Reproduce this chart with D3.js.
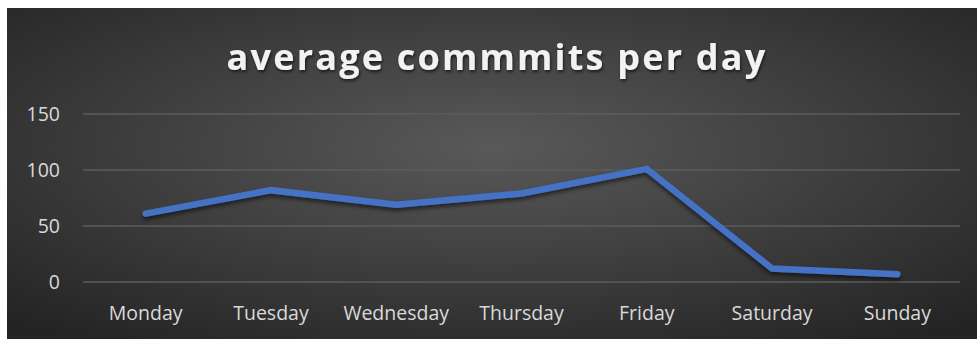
<!DOCTYPE html>
<html>
<head>
<meta charset="utf-8">
<script src="https://cdn.jsdelivr.net/npm/d3@7"></script>
<style>
  html, body { margin: 0; padding: 0; background: #ffffff; }
  svg { display: block; }
</style>
</head>
<body>
<svg id="chart" width="977" height="339"></svg>
<script>
// Average commits per weekday
const days = ["Monday", "Tuesday", "Wednesday", "Thursday", "Friday", "Saturday", "Sunday"];
const commits = [61, 82, 69, 79, 101, 12, 7];
const yTicks = [0, 50, 100, 150];
const titleText = "average commmits per day";

const W = 977, H = 339;
const frame = { x: 7, y: 8, w: W - 7, h: H - 8 };
const plot = { left: 83, right: 960, top: 114, bottom: 282 };

const svg = d3.select("#chart");
const defs = svg.append("defs");

const bg = defs.append("radialGradient")
  .attr("id", "bgGrad")
  .attr("cx", "50%").attr("cy", "42%").attr("r", "72%");
bg.append("stop").attr("offset", "0%").attr("stop-color", "#595959");
bg.append("stop").attr("offset", "55%").attr("stop-color", "#3c3c3c");
bg.append("stop").attr("offset", "100%").attr("stop-color", "#242424");

const lineShadow = defs.append("filter").attr("id", "lineShadow")
  .attr("x", "-5%").attr("y", "-20%").attr("width", "110%").attr("height", "140%");
lineShadow.append("feDropShadow")
  .attr("dx", 0).attr("dy", 3).attr("stdDeviation", 2.2)
  .attr("flood-color", "#000").attr("flood-opacity", 0.55);

const textShadow = defs.append("filter").attr("id", "textShadow")
  .attr("x", "-5%").attr("y", "-30%").attr("width", "110%").attr("height", "160%");
textShadow.append("feDropShadow")
  .attr("dx", 1).attr("dy", 2).attr("stdDeviation", 1.5)
  .attr("flood-color", "#000").attr("flood-opacity", 0.6);

svg.append("rect")
  .attr("x", frame.x).attr("y", frame.y)
  .attr("width", frame.w).attr("height", frame.h)
  .attr("fill", "url(#bgGrad)");

const x = d3.scaleBand().domain(days).range([plot.left, plot.right]).padding(0);
const y = d3.scaleLinear().domain([0, 150]).range([plot.bottom, plot.top]);

// horizontal gridlines
svg.append("g")
  .selectAll("line")
  .data(yTicks)
  .join("line")
  .attr("x1", plot.left).attr("x2", plot.right)
  .attr("y1", d => y(d)).attr("y2", d => y(d))
  .attr("stroke", "#5c5c5c")
  .attr("stroke-width", 1.3);

// y axis labels
const yAxis = d3.axisLeft(y).tickValues(yTicks).tickSize(0).tickPadding(0);
const gy = svg.append("g")
  .attr("transform", `translate(${plot.left - 23},0)`)
  .call(yAxis);
gy.select(".domain").remove();
gy.selectAll("text")
  .attr("fill", "#d9d9d9")
  .attr("font-family", "'Open Sans', sans-serif")
  .attr("font-size", 19.5)
  .attr("dy", "0.34em");

// x axis labels
const xAxis = d3.axisBottom(x).tickSize(0).tickPadding(0);
const gx = svg.append("g")
  .attr("transform", `translate(0,${plot.bottom})`)
  .call(xAxis);
gx.select(".domain").remove();
gx.selectAll("text")
  .attr("fill", "#d9d9d9")
  .attr("font-family", "'Open Sans', sans-serif")
  .attr("font-size", 19.5)
  .attr("y", 38)
  .attr("dy", 0);

// data line
const line = d3.line()
  .x((d, i) => x(days[i]) + x.bandwidth() / 2)
  .y(d => y(d));

svg.append("path")
  .datum(commits)
  .attr("d", line)
  .attr("fill", "none")
  .attr("stroke", "#4472c4")
  .attr("stroke-width", 6.5)
  .attr("stroke-linejoin", "miter")
  .attr("stroke-linecap", "round")
  .attr("filter", "url(#lineShadow)");

// title
svg.append("text")
  .attr("x", 497)
  .attr("y", 70)
  .attr("text-anchor", "middle")
  .attr("fill", "#f2f2f2")
  .attr("font-family", "'Open Sans', sans-serif")
  .attr("font-weight", 700)
  .attr("font-size", 36)
  .attr("letter-spacing", 2.2)
  .attr("filter", "url(#textShadow)")
  .text(titleText);
</script>
</body>
</html>
